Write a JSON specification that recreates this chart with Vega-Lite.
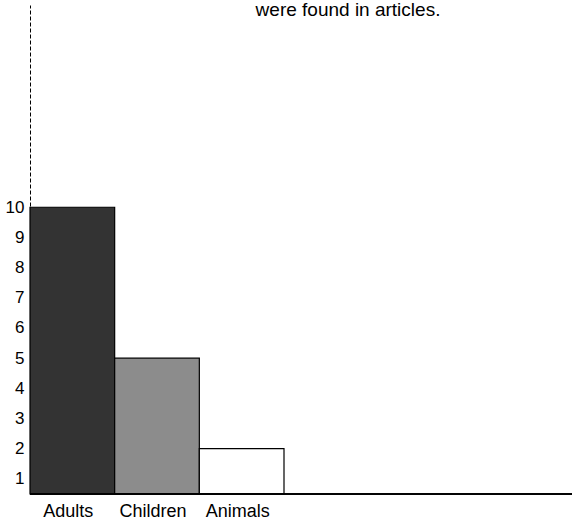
{
  "$schema": "https://vega.github.io/schema/vega-lite/v6.json",
  "width": 542,
  "height": 489,
  "autosize": "none",
  "padding": {"left": 30, "top": 5, "right": 2, "bottom": 30},
  "background": "white",
  "config": {"view": {"stroke": null}, "font": "Liberation Sans"},
  "title": {
    "text": "were found in articles.",
    "anchor": "middle",
    "fontSize": 19,
    "fontWeight": "normal",
    "font": "Liberation Sans",
    "color": "black",
    "baseline": "alphabetic",
    "offset": -30,
    "dx": 47
  },
  "data": {
    "values": [
      {"category": "Adults", "count": 10},
      {"category": "Children", "count": 5},
      {"category": "Animals", "count": 2}
    ]
  },
  "layer": [
    {
      "mark": {"type": "bar", "stroke": "black", "strokeWidth": 1.2},
      "encoding": {
        "x": {
          "field": "category",
          "type": "nominal",
          "sort": ["Adults", "Children", "Animals"],
          "scale": {"range": [0, 254], "paddingInner": 0, "paddingOuter": 0},
          "axis": {
            "title": null,
            "domain": false,
            "ticks": false,
            "labelAngle": 0,
            "labelFontSize": 18,
            "labelColor": "black",
            "labelPadding": 8,
            "labelOffset": -4
          }
        },
        "y": {
          "field": "count",
          "type": "quantitative",
          "scale": {"domain": [0.5, 16.7], "nice": false, "zero": false},
          "axis": {
            "title": null,
            "values": [1, 2, 3, 4, 5, 6, 7, 8, 9, 10],
            "grid": false,
            "ticks": false,
            "domain": true,
            "domainColor": "black",
            "domainDash": [4, 2],
            "domainWidth": 1,
            "labelFontSize": 17,
            "labelFont": "Liberation Sans",
            "labelColor": "black",
            "labelPadding": 6
          }
        },
        "y2": {"datum": 0.5},
        "color": {
          "field": "category",
          "type": "nominal",
          "scale": {"domain": ["Adults", "Children", "Animals"], "range": ["#333333", "#8c8c8c", "#ffffff"]},
          "legend": null
        }
      }
    },
    {
      "mark": {"type": "rule", "color": "black", "strokeWidth": 1.5},
      "encoding": {"y": {"datum": 0.5}}
    }
  ]
}
